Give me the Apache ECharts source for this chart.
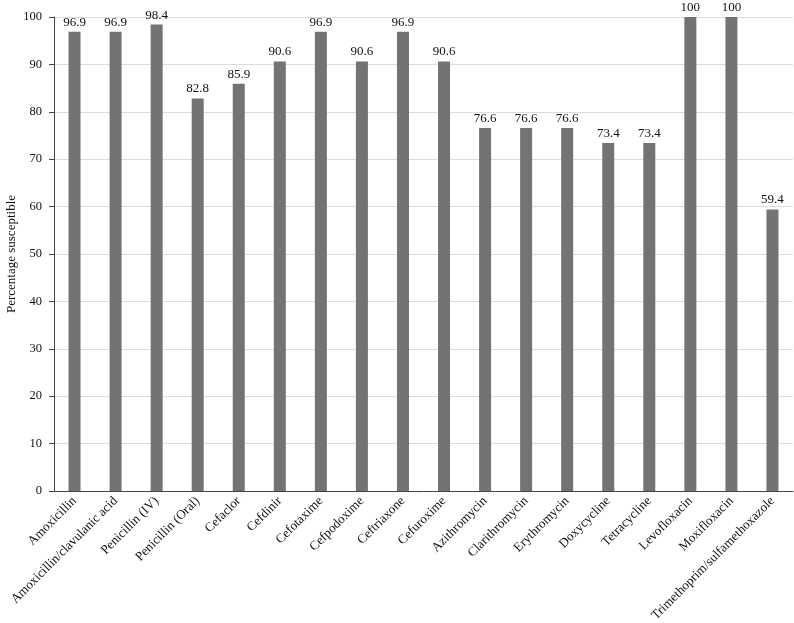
<!DOCTYPE html>
<html><head><meta charset="utf-8">
<script src="https://cdn.jsdelivr.net/npm/echarts@6/dist/echarts.min.js"></script>
<style>html,body{margin:0;padding:0;background:#fff}#c{width:794px;height:623px}</style>
</head><body><div id="c"></div>
<script>
const categories = ["Amoxicillin","Amoxicillin/clavulanic acid","Penicillin (IV)","Penicillin (Oral)","Cefaclor","Cefdinir","Cefotaxime","Cefpodoxime","Ceftriaxone","Cefuroxime","Azithromycin","Clarithromycin","Erythromycin","Doxycycline","Tetracycline","Levofloxacin","Moxifloxacin","Trimethoprim/sulfamethoxazole"];
const values = [96.9,96.9,98.4,82.8,85.9,90.6,96.9,90.6,96.9,90.6,76.6,76.6,76.6,73.4,73.4,100,100,59.4];
const yTicks = {min:0,max:100,interval:10};
const font = "Liberation Serif";
const chart = echarts.init(document.getElementById('c'));
chart.setOption({
  animation:false,
  grid:{left:54,right:1,top:17,bottom:132,containLabel:false,outerBoundsMode:'none'},
  xAxis:{type:'category',data:categories,
    axisLine:{lineStyle:{color:'#444'}},
    axisTick:{alignWithLabel:true,length:5,lineStyle:{color:'#444'}},
    axisLabel:{rotate:45,interval:0,fontFamily:font,fontSize:13,color:'#111',margin:8}},
  yAxis:{type:'value',min:yTicks.min,max:yTicks.max,interval:yTicks.interval,
    name:'Percentage susceptible',nameLocation:'middle',nameGap:36,nameMoveOverlap:false,
    nameTextStyle:{fontFamily:font,fontSize:13,color:'#111'},
    axisLine:{show:true,lineStyle:{color:'#444'}},
    axisTick:{show:true,length:5,lineStyle:{color:'#444'}},
    axisLabel:{fontFamily:font,fontSize:12.5,color:'#111',margin:12},
    splitLine:{lineStyle:{color:'#dcdcdc'}}},
  series:[{type:'bar',data:values,barWidth:12,itemStyle:{color:'#737373'},
    label:{show:true,position:'top',distance:3,fontFamily:font,fontSize:13,color:'#111'}}]
});
</script></body></html>
